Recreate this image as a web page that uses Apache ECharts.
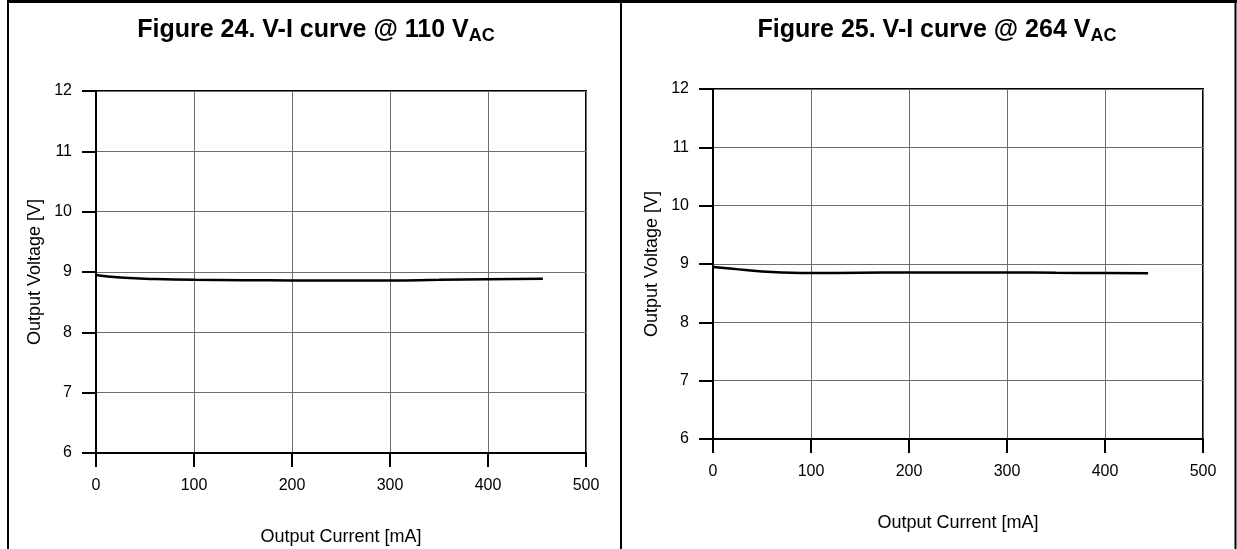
<!DOCTYPE html>
<html>
<head>
<meta charset="utf-8">
<script src="https://cdn.jsdelivr.net/npm/echarts@6/dist/echarts.min.js"></script>
<style>
html,body{margin:0;padding:0;background:#fff;}
#c{width:1237px;height:549px;}
</style>
</head>
<body>
<div id="c"></div>
<script>
// Figure 24: V-I curve @ 110 VAC
const current110 = [0, 10, 25, 50, 100, 150, 200, 250, 300, 350, 400, 456];
const voltage110 = [8.95, 8.93, 8.91, 8.89, 8.87, 8.865, 8.86, 8.86, 8.86, 8.87, 8.88, 8.89];
// Figure 25: V-I curve @ 264 VAC
const current264 = [0, 20, 50, 80, 100, 150, 200, 250, 300, 350, 400, 444];
const voltage264 = [8.95, 8.92, 8.87, 8.85, 8.845, 8.85, 8.855, 8.855, 8.855, 8.85, 8.845, 8.84];
const xTicks = [0, 100, 200, 300, 400, 500];
const yTicks = [6, 7, 8, 9, 10, 11, 12];
const titles = ['Figure 24. V-I curve @ 110 V', 'Figure 25. V-I curve @ 264 V'];
const xName = 'Output Current [mA]';
const yName = 'Output Voltage [V]';

const FONT = '"Liberation Sans", Arial, sans-serif';
const chart = echarts.init(document.getElementById('c'), null, {renderer: 'canvas'});

const grids = [
  {left: 96, top: 91, width: 490, height: 362},
  {left: 713, top: 89, width: 490, height: 350}
];

function xAxis(i) {
  return {
    type: 'value', gridIndex: i,
    min: xTicks[0], max: xTicks[xTicks.length - 1], interval: xTicks[1] - xTicks[0],
    name: xName, nameLocation: 'middle', nameGap: 75,
    nameTextStyle: {fontFamily: FONT, fontSize: 18, color: '#000'},
    axisLine: {show: true, onZero: false, lineStyle: {color: '#000', width: 2}},
    axisTick: {show: true, inside: false, length: 14, lineStyle: {color: '#000', width: 2}},
    axisLabel: {fontFamily: FONT, fontSize: 16, color: '#000', margin: 25},
    splitLine: {show: true, lineStyle: {color: '#6e6e6e', width: 1}}
  };
}
function yAxis(i) {
  return {
    type: 'value', gridIndex: i,
    min: yTicks[0], max: yTicks[yTicks.length - 1], interval: yTicks[1] - yTicks[0],
    name: yName, nameLocation: 'middle', nameGap: 52, nameRotate: 90,
    nameTextStyle: {fontFamily: FONT, fontSize: 18, color: '#000'},
    axisLine: {show: true, onZero: false, lineStyle: {color: '#000', width: 2}},
    axisTick: {show: true, inside: false, length: 14, lineStyle: {color: '#000', width: 2}},
    axisLabel: {fontFamily: FONT, fontSize: 16, color: '#000', margin: 24},
    splitLine: {show: true, lineStyle: {color: '#6e6e6e', width: 1}}
  };
}

const titleRich = {
  main: {fontFamily: FONT, fontSize: 25, fontWeight: 'bold', color: '#000'},
  sub: {fontFamily: FONT, fontSize: 18, fontWeight: 'bold', color: '#000', verticalAlign: 'bottom', padding: [12, 0, 0, 0]}
};

const option = {
  backgroundColor: '#fff',
  animation: false,
  title: [
    {text: '{main|' + titles[0] + '}{sub|AC}', left: 311, top: 10, textAlign: 'center', textStyle: {rich: titleRich}},
    {text: '{main|' + titles[1] + '}{sub|AC}', left: 932, top: 10, textAlign: 'center', textStyle: {rich: titleRich}}
  ],
  grid: grids.map(g => Object.assign({show: true, borderColor: '#000', borderWidth: 2, backgroundColor: 'transparent',
                                      containLabel: false, outerBoundsMode: 'none'}, g)),
  xAxis: [xAxis(0), xAxis(1)],
  yAxis: [yAxis(0), yAxis(1)],
  series: [
    {type: 'line', xAxisIndex: 0, yAxisIndex: 0, smooth: true, symbol: 'none',
     lineStyle: {color: '#000', width: 2.5}, data: current110.map((x, k) => [x, voltage110[k]])},
    {type: 'line', xAxisIndex: 1, yAxisIndex: 1, smooth: true, symbol: 'none',
     lineStyle: {color: '#000', width: 2.5}, data: current264.map((x, k) => [x, voltage264[k]])}
  ],
  graphic: [
    {type: 'line', shape: {x1: 8, y1: 0, x2: 8, y2: 549}, style: {stroke: '#000', lineWidth: 2}},
    {type: 'line', shape: {x1: 7, y1: 1.5, x2: 1237, y2: 1.5}, style: {stroke: '#000', lineWidth: 3}},
    {type: 'line', shape: {x1: 621, y1: 0, x2: 621, y2: 549}, style: {stroke: '#000', lineWidth: 2}},
    {type: 'line', shape: {x1: 1235.5, y1: 0, x2: 1235.5, y2: 549}, style: {stroke: '#000', lineWidth: 2}}
  ]
};
chart.setOption(option);
</script>
</body>
</html>
